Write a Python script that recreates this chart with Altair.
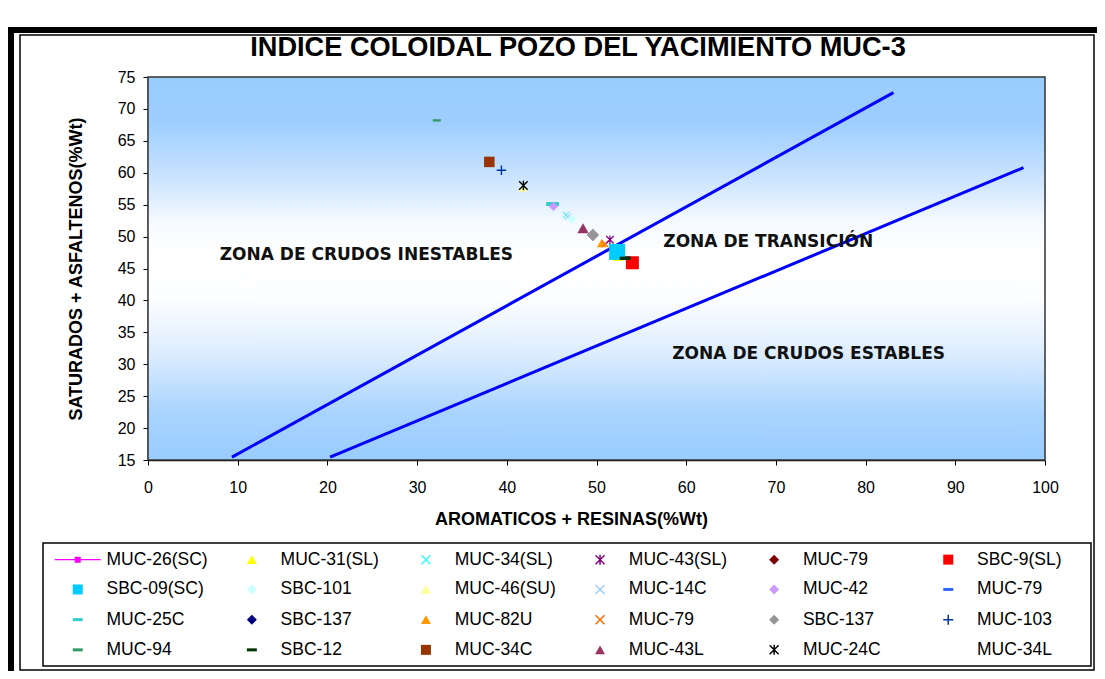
import altair as alt
import pandas as pd

TITLE = "INDICE COLOIDAL POZO DEL YACIMIENTO MUC-3"
X_TITLE = "AROMATICOS + RESINAS(%Wt)"
Y_TITLE = "SATURADOS + ASFALTENOS(%Wt)"

# Legend entries (row-major order as in the legend box)
legend_labels = [
    "MUC-26(SC)", "MUC-31(SL)", "MUC-34(SL)", "MUC-43(SL)", "MUC-79", "SBC-9(SL)",
    "SBC-09(SC)", "SBC-101", "MUC-46(SU)", "MUC-14C", "MUC-42", "MUC-79",
    "MUC-25C", "SBC-137", "MUC-82U", "MUC-79", "SBC-137", "MUC-103",
    "MUC-94", "SBC-12", "MUC-34C", "MUC-43L", "MUC-24C", "MUC-34L",
]
# Values (None = no visible point)
x_values = [
    None, 52.4, 46.6, 51.5, 52.3, 54.0,
    52.3, 47.24, 41.8, 46.8, 45.2, 53.2,
    45.1, 49.6, 50.6, 50.95, 49.6, 39.4,
    32.2, 53.2, 38.05, 48.5, 41.85, None,
]
y_values = [
    None, 46.9, 53.4, 49.5, 47.6, 45.9,
    47.6, 52.7, 57.7, 53.1, 54.7, 46.7,
    55.1, 50.25, 49.0, 48.85, 50.25, 60.4,
    68.2, 46.6, 61.7, 51.3, 58.0, None,
]

x_ticks = [0, 10, 20, 30, 40, 50, 60, 70, 80, 90, 100]
y_ticks = [15, 20, 25, 30, 35, 40, 45, 50, 55, 60, 65, 70, 75]

line_names = ["inestable", "inestable", "estable", "estable"]
line_x = [9.36, 83.1, 20.3, 97.6]
line_y = [15.45, 72.55, 15.45, 60.8]

zone_labels = ["ZONA DE CRUDOS INESTABLES", "ZONA DE TRANSICIÓN", "ZONA DE CRUDOS ESTABLES"]
zone_x = [8.0, 57.45, 58.45]
zone_y = [47.1, 49.2, 31.55]

# ---- styles (kept apart from the data) ----
DASH = "M-1,-0.3H1V0.3H-1Z"
XSHAPE = "M-1,-0.8L-0.8,-1L1,0.8L0.8,1Z M0.8,-1L1,-0.8L-0.8,1L-1,0.8Z"
PLUS = "M-1,-0.15H-0.15V-1H0.15V-0.15H1V0.15H0.15V1H-0.15V0.15H-1Z"
STAR = XSHAPE + " M-0.15,-1H0.15V1H-0.15Z"
LINESQ = "M-4.6,-0.14H4.6V0.14H-4.6Z M-0.6,-0.6H0.6V0.6H-0.6Z"

colors = [
    "#FF00FF", "#FFFF00", "#33FFFF", "#800080", "#800000", "#FF0000",
    "#00CCFF", "#CCFFFF", "#FFFF99", "#99CCFF", "#CC99FF", "#3366FF",
    "#33CCCC", "#000080", "#FF9900", "#FF6600", "#969696", "#003399",
    "#339966", "#003300", "#993300", "#993366", "#000000", "#FFFFFF",
]
shapes = [
    LINESQ, "triangle-up", XSHAPE, STAR, "diamond", "square",
    "square", "diamond", "triangle-up", XSHAPE, "diamond", DASH,
    DASH, "diamond", "triangle-up", XSHAPE, "diamond", PLUS,
    DASH, DASH, "square", "triangle-up", STAR, "square",
]
sizes = [
    81, 110, 49, 70, 81, 169,
    256, 90, 90, 49, 81, 121,
    169, 130, 100, 60, 144, 90,
    64, 121, 110, 130, 90, 81,
]
# drawing order (hidden points first)
draw_order = [0, 4, 11, 13, 1, 2, 9, 8, 22, 17, 20, 18, 12, 10, 7, 21, 16, 14, 15, 3, 6, 5, 19]

N_COLS, N_ROWS = 6, 4

# unique keys for repeated labels
keys = []
seen = {}
for lab in legend_labels:
    n = seen.get(lab, 0)
    keys.append(lab + " " * n)
    seen[lab] = n + 1

# the legend fills column by column: reorder so it reads row by row
leg_order = [r * N_COLS + c for c in range(N_COLS) for r in range(N_ROWS)]
dom_keys = [keys[i] for i in leg_order]
dom_colors = [colors[i] for i in leg_order]
dom_shapes = [shapes[i] for i in leg_order]

rows = []
for rank, i in enumerate(draw_order):
    if x_values[i] is None:
        continue
    rows.append({"key": keys[i], "x": x_values[i], "y": y_values[i], "sz": sizes[i], "ord": rank})
pts_df = pd.DataFrame(rows)

lines_df = pd.DataFrame({"line": line_names, "x": line_x, "y": line_y})
zones_df = pd.DataFrame({"label": zone_labels, "x": zone_x, "y": zone_y})
bg_df = pd.DataFrame({"x": [x_ticks[0]], "x2": [x_ticks[-1]], "y": [y_ticks[0]], "y2": [y_ticks[-1]]})
one = pd.DataFrame({"a": [0]})

FONT = "Liberation Sans"
xscale = alt.Scale(domain=[0, 100], nice=False, zero=False)
yscale = alt.Scale(domain=[15, 75], nice=False, zero=False)

xaxis = alt.Axis(values=x_ticks, grid=False, title=X_TITLE, labelFontSize=16, labelPadding=14,
                 titleFontSize=18, titleFontWeight="bold", titlePadding=15, titleX=423,
                 labelOverlap=False, labelFlush=False)
yaxis = alt.Axis(values=y_ticks, grid=False, title=Y_TITLE, labelFontSize=16, labelPadding=8,
                 titleFontSize=18, titleFontWeight="bold", titlePadding=32,
                 labelOverlap=False, labelFlush=False)

X = lambda f="x:Q": alt.X(f, scale=xscale, axis=xaxis)
Y = lambda f="y:Q": alt.Y(f, scale=yscale, axis=yaxis)

gradient = alt.LinearGradient(
    gradient="linear", x1=0, x2=0, y1=0, y2=1,
    stops=[
        alt.GradientStop(offset=0, color="#99CCFF"),
        alt.GradientStop(offset=0.12, color="#9ECEFF"),
        alt.GradientStop(offset=0.25, color="#C6E1FF"),
        alt.GradientStop(offset=0.38, color="#F5FAFF"),
        alt.GradientStop(offset=0.47, color="#FFFFFF"),
        alt.GradientStop(offset=0.58, color="#FCFDFF"),
        alt.GradientStop(offset=0.72, color="#DDEDFF"),
        alt.GradientStop(offset=0.88, color="#A8D3FF"),
        alt.GradientStop(offset=1, color="#99CCFF"),
    ],
)

bg = alt.Chart(bg_df).mark_rect(color=gradient).encode(x=X(), x2="x2:Q", y=Y(), y2="y2:Q")
border = alt.Chart(bg_df).mark_rect(fill="transparent", stroke="#333333", strokeWidth=1.5).encode(
    x=X(), x2="x2:Q", y=Y(), y2="y2:Q"
)

lines = alt.Chart(lines_df).mark_line(color="#0000FF", strokeWidth=3).encode(
    x=X(), y=Y(), detail="line:N"
)

zones = alt.Chart(zones_df).mark_text(
    align="left", baseline="middle", font="DejaVu Sans", fontWeight="bold", fontSize=17, color="#111111"
).encode(x=X(), y=Y(), text="label:N")

leg = alt.Legend(
    title=None, orient="none", legendX=-79, legendY=473.5, columns=N_COLS, gridAlign="all",
    symbolSize=100, labelFontSize=17.5, labelFont=FONT, labelColor="black", labelOffset=20,
    columnPadding=35.1, rowPadding=11.2, padding=0, labelExpr="trim(datum.label)",
    symbolStrokeWidth=0, labelLimit=300, symbolOpacity=1,
)

points = alt.Chart(pts_df).mark_point(filled=True, opacity=1, strokeWidth=0).encode(
    x=X(),
    y=Y(),
    color=alt.Color("key:N", scale=alt.Scale(domain=dom_keys, range=dom_colors), legend=leg),
    shape=alt.Shape("key:N", scale=alt.Scale(domain=dom_keys, range=dom_shapes), legend=leg),
    size=alt.Size("sz:Q", scale=None, legend=None),
    order=alt.Order("ord:Q"),
)

# decorative frames and title (pixel positions relative to plot area)
def box(x, x2, y, y2, **kw):
    return alt.Chart(one).mark_rect(**kw).encode(
        x=alt.value(x), x2=alt.value(x2), y=alt.value(y), y2=alt.value(y2)
    )

frame_left = box(-140, -134, -50, 594, color="black")
frame_top = box(-140, 949, -50, -44, color="black")
frame_inner = box(-128, 946, -42, 593, fill="transparent", stroke="black", strokeWidth=1.5)
legend_box = box(-105, 943, 466, 589, fill="transparent", stroke="black", strokeWidth=1.5)

title = alt.Chart(one).mark_text(
    text=TITLE, font=FONT, fontSize=27.2, fontWeight="bold", color="black",
    align="center", baseline="middle"
).encode(x=alt.value(430), y=alt.value(-29))

chart = alt.layer(
    bg, border, lines, zones, points, frame_left, frame_top, frame_inner, legend_box, title
).properties(
    width=897, height=383,
    padding={"left": 0, "top": 19, "right": 0, "bottom": 0},
).configure(
    font=FONT, background="white"
).configure_view(
    stroke=None
).configure_axis(
    labelFont=FONT, titleFont=FONT, labelColor="black", titleColor="black",
    domainColor="black", tickColor="black", tickSize=5, domainWidth=1.5, zindex=1,
    labelOverlap=False
)

chart.save("out.html", embed_options={"renderer": "svg", "actions": False})
